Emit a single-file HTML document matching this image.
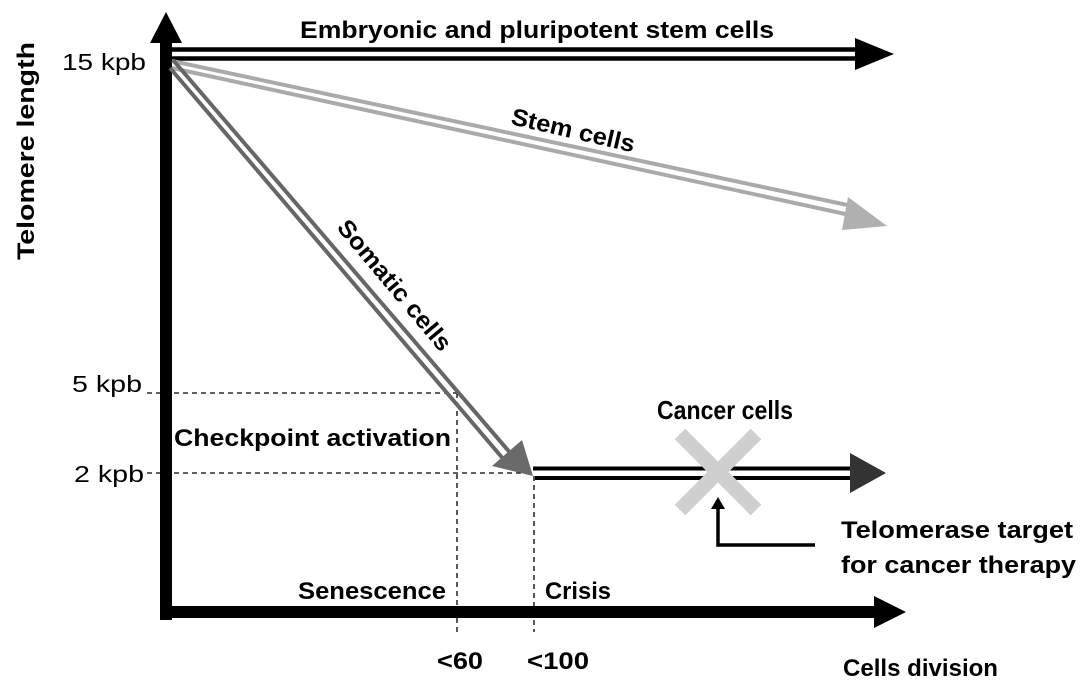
<!DOCTYPE html>
<html><head><meta charset="utf-8"><style>
html,body{margin:0;padding:0;background:#fff;}
svg{display:block;}
text{font-family:"Liberation Sans",sans-serif;}
</style></head><body>
<svg width="1087" height="690" viewBox="0 0 1087 690" xmlns="http://www.w3.org/2000/svg">
<g stroke="#000" stroke-width="1.3" stroke-dasharray="5,4" fill="none">
<line x1="147" y1="393" x2="457" y2="393"/>
<line x1="457" y1="393" x2="457" y2="635"/>
<line x1="147" y1="473" x2="533" y2="473"/>
<line x1="534" y1="476" x2="534" y2="632"/>
</g>
<rect x="160" y="40" width="12" height="580" fill="#000"/>
<polygon points="166,12 150,43 182,43" fill="#000"/>
<rect x="160" y="606" width="716" height="12" fill="#000"/>
<polygon points="906,612 874,596 874,628" fill="#000"/>
<line x1="172" y1="49.5" x2="862" y2="49.5" stroke="#000" stroke-width="4.5"/>
<line x1="172" y1="58.5" x2="862" y2="58.5" stroke="#000" stroke-width="4.5"/>
<polygon points="894,54 855,38 855,70" fill="#000"/>
<g stroke="#aaa" stroke-width="4">
<line x1="172" y1="61" x2="852" y2="206"/>
<line x1="172" y1="68" x2="850" y2="215"/>
</g>
<polygon points="887,226 848,197 842,230" fill="#b0b0b0"/>
<g stroke="#666" stroke-width="4">
<line x1="173" y1="60" x2="512" y2="455"/>
<line x1="170" y1="68" x2="505" y2="461"/>
</g>
<polygon points="533,476 522,440 492,466" fill="#6a6a6a"/>
<line x1="533" y1="468.5" x2="856" y2="468.5" stroke="#000" stroke-width="4"/>
<line x1="535" y1="478" x2="856" y2="478" stroke="#000" stroke-width="4"/>
<polygon points="886,473 850,453 850,493" fill="#333"/>
<g stroke="#cfcfcf" stroke-width="15">
<line x1="680" y1="434" x2="756" y2="510"/>
<line x1="756" y1="434" x2="680" y2="510"/>
</g>
<polyline points="815,545 718,545 718,505" fill="none" stroke="#000" stroke-width="3.5"/>
<polygon points="718,497 711,509 725,509" fill="#000"/>
<g font-weight="bold" font-size="24" fill="#000">
<text x="300" y="38" textLength="474" lengthAdjust="spacingAndGlyphs">Embryonic and pluripotent stem cells</text>
<text transform="translate(510,124) rotate(13)" textLength="126" lengthAdjust="spacingAndGlyphs">Stem cells</text>
<text transform="translate(336,228) rotate(50)" textLength="163" lengthAdjust="spacingAndGlyphs">Somatic cells</text>
<text x="657" y="419" font-size="26" textLength="136" lengthAdjust="spacingAndGlyphs">Cancer cells</text>
<text x="174" y="446" textLength="277" lengthAdjust="spacingAndGlyphs">Checkpoint activation</text>
<text x="841" y="538" textLength="232" lengthAdjust="spacingAndGlyphs">Telomerase target</text>
<text x="841" y="573" textLength="235" lengthAdjust="spacingAndGlyphs">for cancer therapy</text>
<text x="298" y="599" textLength="148" lengthAdjust="spacingAndGlyphs">Senescence</text>
<text x="545" y="599" textLength="66" lengthAdjust="spacingAndGlyphs">Crisis</text>
<text x="437" y="669" textLength="46" lengthAdjust="spacingAndGlyphs">&lt;60</text>
<text x="527" y="669" textLength="62" lengthAdjust="spacingAndGlyphs">&lt;100</text>
<text x="843" y="676" textLength="155" lengthAdjust="spacingAndGlyphs">Cells division</text>
<text transform="translate(34,260) rotate(-90)" textLength="218" lengthAdjust="spacingAndGlyphs">Telomere length</text>
</g>
<g font-size="23" fill="#000">
<text x="62" y="70" textLength="84" lengthAdjust="spacingAndGlyphs">15 kpb</text>
<text x="72" y="392" textLength="70" lengthAdjust="spacingAndGlyphs">5 kpb</text>
<text x="74" y="482" textLength="70" lengthAdjust="spacingAndGlyphs">2 kpb</text>
</g>
</svg>
</body></html>
